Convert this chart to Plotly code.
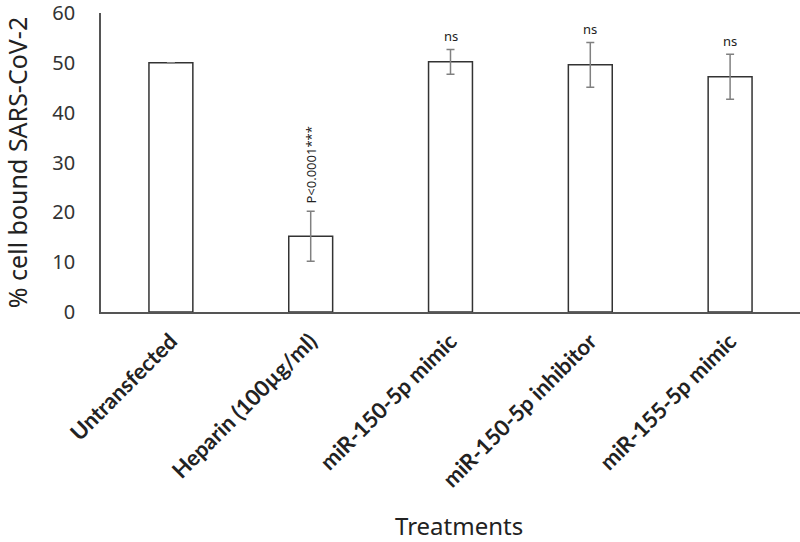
import plotly.graph_objects as go

categories = ["Untransfected", "Heparin (100µg/ml)", "miR-150-5p mimic",
              "miR-150-5p inhibitor", "miR-155-5p mimic"]
values = [50.0, 15.2, 50.2, 49.6, 47.2]
errors = [0.0, 5.0, 2.5, 4.5, 4.5]
labels = ["", "P<0.0001***", "ns", "ns", "ns"]
y_ticks = [0, 10, 20, 30, 40, 50, 60]

fig = go.Figure()
fig.add_trace(go.Bar(
    x=categories, y=values,
    width=0.314,
    marker=dict(color="white", line=dict(color="#333333", width=1.5)),
    error_y=dict(type="data", array=errors, visible=True,
                 color="#808080", thickness=1.5, width=4),
    showlegend=False,
))

for c, v, e, lab in zip(categories, values, errors, labels):
    if not lab:
        continue
    if lab.startswith("P"):
        fig.add_annotation(x=c, y=v + e, text=lab, textangle=-90,
                           showarrow=False, yanchor="bottom", yshift=6,
                           font=dict(family="Noto Sans", size=13, color="#222"))
    else:
        fig.add_annotation(x=c, y=v + e, text=lab, showarrow=False,
                           yanchor="bottom", yshift=2,
                           font=dict(family="Noto Sans", size=13, color="#222"))

# x-axis title placed as annotation for precise positioning
fig.add_annotation(text="Treatments", xref="paper", yref="paper",
                   x=0.512, y=0, xanchor="center", yanchor="middle",
                   yshift=-213, showarrow=False,
                   font=dict(family="Noto Sans", size=24, color="#222"))

fig.update_layout(
    width=800, height=542,
    margin=dict(l=101, r=0, t=13, b=230),
    plot_bgcolor="white", paper_bgcolor="white",
    bargap=0.686,
    xaxis=dict(
        showline=True, linecolor="#555555", linewidth=1.5,
        tickangle=-45, ticks="",
        ticklabelstandoff=6,
        tickfont=dict(family="Lato", size=22, color="#222", weight="bold"),
        automargin=False,
    ),
    yaxis=dict(
        range=[0, 60], tickvals=y_ticks,
        showline=True, linecolor="#555555", linewidth=1.5,
        showgrid=False, zeroline=False, ticks="",
        ticklabelstandoff=20, ticklabeloverflow="allow",
        tickfont=dict(family="Noto Sans", size=20, color="#333"),
        title=dict(text="% cell bound SARS-CoV-2", standoff=20,
                   font=dict(family="Noto Sans", size=25, color="#222")),
        automargin=False,
    ),
)

fig.write_html("out.html", config={"displayModeBar": False},
               post_script="document.body.style.margin='0';")
